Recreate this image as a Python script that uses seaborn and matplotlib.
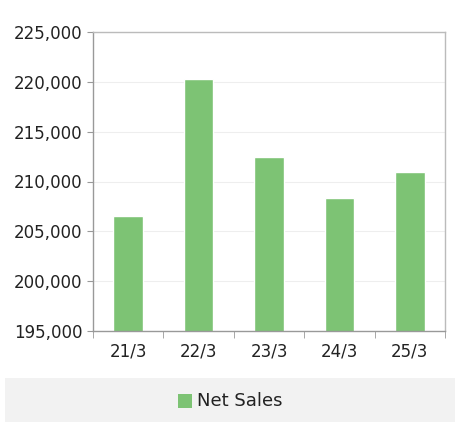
import matplotlib
matplotlib.use("Agg")
import matplotlib.pyplot as plt
import seaborn as sns
import pandas as pd
from matplotlib.ticker import FuncFormatter, FixedLocator
from matplotlib.patches import Rectangle

categories = ["21/3", "22/3", "23/3", "24/3", "25/3"]
net_sales = [206530, 220280, 212450, 208340, 210950]

sns.set_style("white")
plt.rcParams['font.family'] = ['DejaVu Sans']
df = pd.DataFrame({"period": categories, "Net Sales": net_sales})

fig = plt.figure(figsize=(4.61, 4.33), dpi=100)
ax = fig.add_axes([93/461, 1-331/433, 352/461, 299/433])
sns.barplot(data=df, x="period", y="Net Sales", color="#7DC374", width=0.42, ax=ax, saturation=1)
ax.set_ylim(195000, 225000)
ax.set_xlim(-0.5, 4.5)
ax.set_yticks(range(195000, 225001, 5000))
ax.yaxis.set_major_formatter(FuncFormatter(lambda v, p: f"{int(v):,}"))
ax.yaxis.grid(True, color="#EEEEEE", linewidth=0.8)
ax.set_axisbelow(True)
ax.set_xlabel(""); ax.set_ylabel("")
for s in ax.spines.values():
    s.set_color("#BBBBBB"); s.set_linewidth(1)
ax.spines['left'].set_color("#999999")
ax.spines['bottom'].set_color("#999999")
ax.tick_params(axis='y', labelsize=12, length=4, color="#999999", left=True, colors="#222222")
ax.tick_params(axis='x', labelsize=12, length=0, pad=8, colors="#222222")
ax.xaxis.set_minor_locator(FixedLocator([-0.5, 0.5, 1.5, 2.5, 3.5, 4.5]))
ax.tick_params(axis='x', which='minor', length=5, color="#999999", bottom=True)

fig.patches.append(Rectangle((5/461, 1-422/433), 450/461, 44/433, transform=fig.transFigure,
                             facecolor="#F2F2F2", edgecolor="none"))
fig.patches.append(Rectangle((178/461, 1-408/433), 14/461, 14/433, transform=fig.transFigure,
                             facecolor="#7DC374", edgecolor="none"))
fig.text(197/461, 1-401/433, "Net Sales", fontsize=13, va="center", ha="left", color="#222222")
fig.savefig("out.png", dpi=100)
